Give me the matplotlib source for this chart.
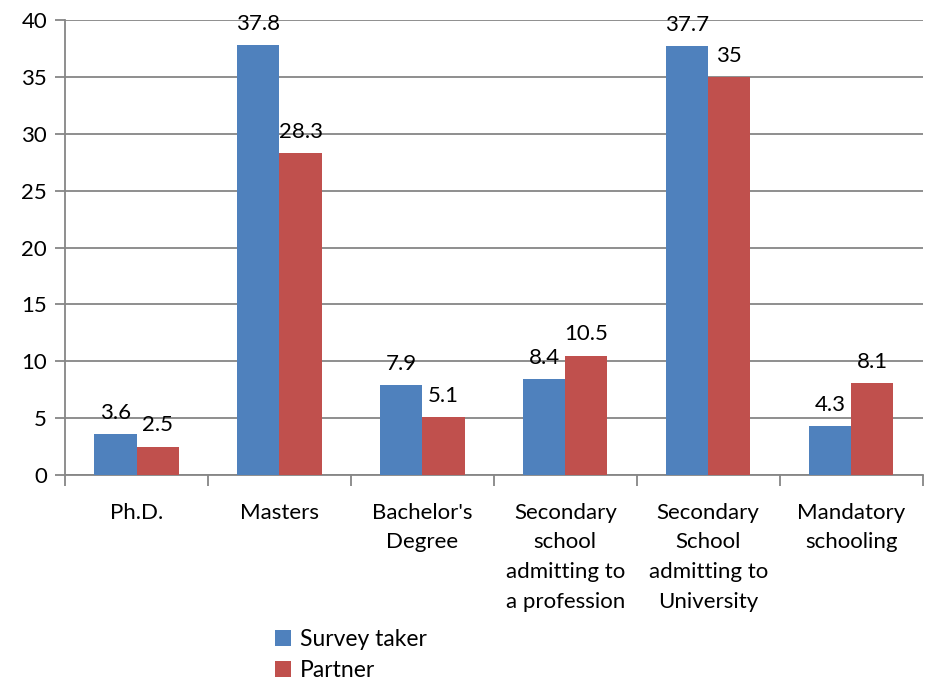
import matplotlib.pyplot as plt
import numpy as np

categories = ["Ph.D.", "Masters", "Bachelor's\nDegree",
              "Secondary\nschool\nadmitting to\na profession",
              "Secondary\nSchool\nadmitting to\nUniversity",
              "Mandatory\nschooling"]
survey_taker = [3.6, 37.8, 7.9, 8.4, 37.7, 4.3]
partner = [2.5, 28.3, 5.1, 10.5, 35, 8.1]
series_names = ["Survey taker", "Partner"]

blue = "#4f81bd"
red = "#c0504d"
grey = "#868686"

plt.rcParams['font.family'] = ['Lato', 'DejaVu Sans']

fig = plt.figure(figsize=(9.3, 6.82), dpi=100)
ax = fig.add_axes([0.07, 0.3035, 0.922, 0.667])

x = np.arange(len(categories))
w = 0.295
b1 = ax.bar(x - w / 2, survey_taker, w, color=blue, label=series_names[0], zorder=3)
b2 = ax.bar(x + w / 2, partner, w, color=red, label=series_names[1], zorder=3)

for bars in (b1, b2):
    ax.bar_label(bars, labels=[f"{v:g}" for v in bars.datavalues],
                 padding=8, fontsize=16, color="black")

ax.set_xlim(-0.5, len(categories) - 0.5)
ax.set_ylim(0, 40)
ax.set_yticks(range(0, 41, 5))
ax.yaxis.grid(True, color=grey, linewidth=1.3, zorder=0)
ax.tick_params(axis='y', length=7, width=1.3, color=grey, labelsize=16, pad=6)

ax.set_xticks(x)
ax.set_xticklabels(categories, fontsize=16, linespacing=1.6)
ax.tick_params(axis='x', length=0, pad=20)
ax.set_xticks(np.arange(-0.5, len(categories), 1), minor=True)
ax.tick_params(axis='x', which='minor', length=8, width=1.3, color=grey)

for s in ['top', 'right']:
    ax.spines[s].set_visible(False)
for s in ['left', 'bottom']:
    ax.spines[s].set_color(grey)
    ax.spines[s].set_linewidth(1.3)

fig.legend(loc='lower left', bbox_to_anchor=(0.278, -0.022), frameon=False,
           fontsize=16.5, handlelength=0.7, handleheight=0.7, handletextpad=0.4,
           labelspacing=0.45, borderpad=0.2)

fig.savefig("out.png", dpi=100)
